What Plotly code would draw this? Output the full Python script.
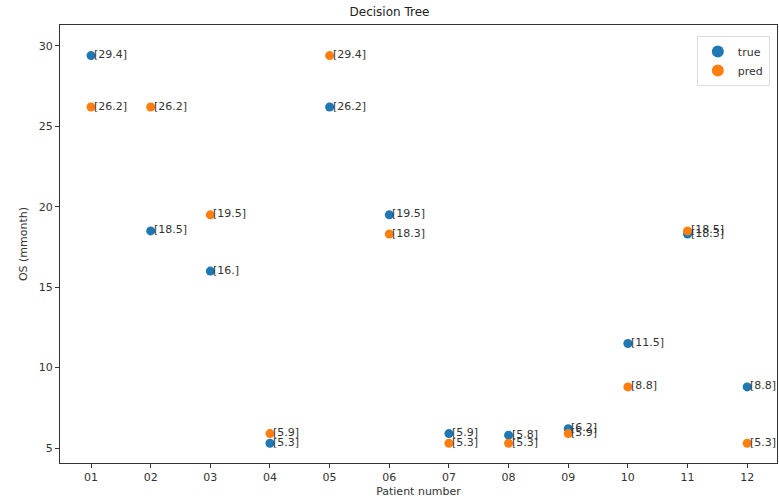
import plotly.graph_objects as go

patients = ["01", "02", "03", "04", "05", "06", "07", "08", "09", "10", "11", "12"]
true_vals = [29.4, 18.5, 16.0, 5.3, 26.2, 19.5, 5.9, 5.8, 6.2, 11.5, 18.3, 8.8]
pred_vals = [26.2, 26.2, 19.5, 5.9, 29.4, 18.3, 5.3, 5.3, 5.9, 8.8, 18.5, 5.3]
true_labels = ["[29.4]", "[18.5]", "[16.]", "[5.3]", "[26.2]", "[19.5]", "[5.9]", "[5.8]", "[6.2]", "[11.5]", "[18.3]", "[8.8]"]
pred_labels = ["[26.2]", "[26.2]", "[19.5]", "[5.9]", "[29.4]", "[18.3]", "[5.3]", "[5.3]", "[5.9]", "[8.8]", "[18.5]", "[5.3]"]
yticks = [5, 10, 15, 20, 25, 30]

xs = list(range(len(patients)))
fig = go.Figure()
fig.add_trace(go.Scatter(x=xs, y=true_vals, mode="markers", name="true",
                         marker=dict(color="#1f77b4", size=9)))
fig.add_trace(go.Scatter(x=xs, y=pred_vals, mode="markers", name="pred",
                         marker=dict(color="#ff7f0e", size=9)))

anns = []
for x, y, t in list(zip(xs, true_vals, true_labels)) + list(zip(xs, pred_vals, pred_labels)):
    anns.append(dict(x=x, y=y, text=t, showarrow=False, xanchor="left", yanchor="middle",
                     xshift=1, yshift=1, font=dict(size=11, color="#333333")))

fig.update_layout(
    width=779, height=504,
    margin=dict(l=60, r=2, t=25, b=41),
    paper_bgcolor="white", plot_bgcolor="white",
    font=dict(family="DejaVu Sans", size=11, color="#333333"),
    title=dict(text="Decision Tree", x=0.5, xanchor="center", y=0.985, yanchor="top",
               font=dict(size=12, color="#222222")),
    annotations=anns,
    showlegend=True,
    legend=dict(x=0.99, y=0.975, xanchor="right", yanchor="top",
                bgcolor="white", bordercolor="#dddddd", borderwidth=1,
                font=dict(size=11), itemsizing="constant"),
    xaxis=dict(range=[-0.52, 11.5], tickvals=xs, ticktext=patients,
               showgrid=False, zeroline=False, showline=True, linecolor="#333333",
               mirror=True, ticks="outside", ticklen=4, tickcolor="#333333",
               title=dict(text="Patient number", standoff=4, font=dict(size=11))),
    yaxis=dict(range=[4.07, 31.3], tickvals=yticks,
               showgrid=False, zeroline=False, showline=True, linecolor="#333333",
               mirror=True, ticks="outside", ticklen=4, tickcolor="#333333",
               title=dict(text="OS (mmonth)", standoff=8, font=dict(size=11))),
)
fig.write_html("out.html", config={"displayModeBar": False},
               post_script="document.body.style.margin='0';document.body.style.overflow='hidden';")
